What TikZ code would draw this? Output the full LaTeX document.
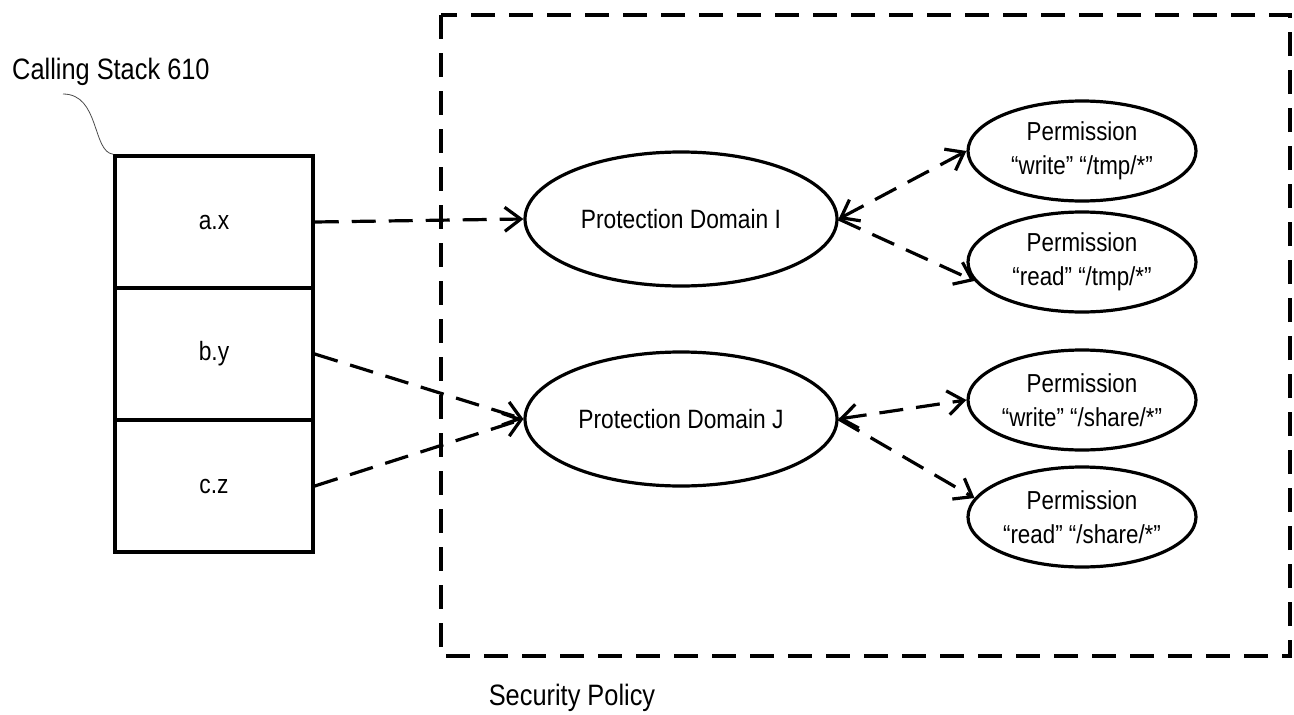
\documentclass[tikz,border=0pt]{standalone}
\usepackage{fontspec}
\setmainfont{Liberation Sans}[FakeStretch=0.86]
\usetikzlibrary{shapes.geometric,arrows.meta}
\begin{document}
\begin{tikzpicture}[x=1pt,y=-1pt,
 stackcell/.style={draw,line width=3.5pt,minimum width=198pt,minimum height=132pt,inner sep=0pt,font=\fontsize{26.5}{30}\selectfont},
 pdomain/.style={ellipse,draw,line width=3.2pt,minimum width=312pt,minimum height=134pt,inner sep=0pt,font=\fontsize{26.5}{30}\selectfont},
 perm/.style={ellipse,draw,line width=3.2pt,minimum width=228pt,minimum height=100pt,inner sep=0pt,align=center,font=\fontsize{26}{34}\selectfont},
 dashline/.style={line width=3.2pt,dash pattern=on 24pt off 13pt},
 tip/.style={-{Straight Barb[length=16pt,width=24pt]}},
 bitip/.style={{Straight Barb[length=16pt,width=24pt]}-{Straight Barb[length=16pt,width=24pt]}},
 lbl/.style={font=\fontsize{29.5}{34}\selectfont,inner sep=0pt}]
\useasboundingbox (0,0) rectangle (1294,715);
% security policy frame
\draw[line width=3.5pt,dash pattern=on 24pt off 14pt] (441,15) rectangle (1290,656);
\node[lbl] (policy) at (572,698) {Security Policy};
% calling stack
\node[stackcell] (ax) at (214,222) {a.x};
\node[stackcell] (by) at (214,354) {b.y};
\node[stackcell] (cz) at (214,486) {c.z};
\node[lbl,anchor=west] (stacklbl) at (12,72) {Calling Stack 610};
\coordinate (leadstart) at (63,94);
\draw[black!70,line width=0.8pt] (leadstart) .. controls (100,94) and (92,152) .. (ax.north west);
% domains
\node[pdomain] (pdi) at (681,219) {Protection Domain I};
\node[pdomain] (pdj) at (681,419) {Protection Domain J};
% permissions
\node[perm] (wt) at (1082,151) {Permission\\“write” “/tmp/*”};
\node[perm] (rt) at (1082,262) {Permission\\“read” “/tmp/*”};
\node[perm] (ws) at (1082,400) {Permission\\“write” “/share/*”};
\node[perm] (rs) at (1082,517) {Permission\\“read” “/share/*”};
% connectors
\draw[dashline,tip] (ax.east) -- (pdi.west);
\draw[dashline,tip] (by.east) -- (pdj.west);
\draw[dashline,tip] (cz.east) -- (pdj.west);
\draw[dashline,bitip] (pdi.east) -- (wt.west);
\draw[dashline,tip] (pdi.east) -- (rt.190);
\draw[dashline,bitip] (pdj.east) -- (ws.west);
\draw[dashline,tip] (pdj.east) -- (rs.170);
\end{tikzpicture}
\end{document}
